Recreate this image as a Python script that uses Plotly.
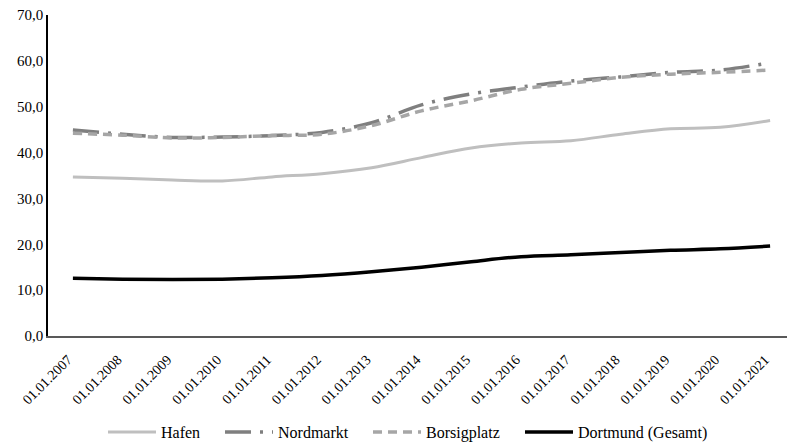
import plotly.graph_objects as go

dates = ["01.01.2007", "01.01.2008", "01.01.2009", "01.01.2010", "01.01.2011",
         "01.01.2012", "01.01.2013", "01.01.2014", "01.01.2015", "01.01.2016",
         "01.01.2017", "01.01.2018", "01.01.2019", "01.01.2020", "01.01.2021"]
hafen = [34.7, 34.4, 34.0, 33.8, 34.7, 35.4, 36.7, 38.9, 41.0, 42.1, 42.6, 44.0, 45.2, 45.5, 47.0]
nordmarkt = [44.9, 44.0, 43.3, 43.4, 43.7, 44.4, 46.5, 50.4, 52.8, 54.3, 55.6, 56.5, 57.5, 58.0, 59.6]
borsigplatz = [44.2, 43.8, 43.2, 43.3, 43.7, 44.0, 45.9, 49.1, 51.3, 53.8, 55.1, 56.4, 57.1, 57.5, 58.0]
dortmund = [12.6, 12.4, 12.3, 12.4, 12.7, 13.2, 14.0, 15.0, 16.2, 17.3, 17.7, 18.2, 18.7, 19.0, 19.6]
y_ticks = [0, 10, 20, 30, 40, 50, 60, 70]

FONT = "Times New Roman, Liberation Serif, Tinos, serif"

fig = go.Figure()
fig.add_trace(go.Scatter(x=dates, y=hafen, name="Hafen", mode="lines", legend="legend",
                         line=dict(color="#BFBFBF", width=3, shape="spline")))
fig.add_trace(go.Scatter(x=dates, y=nordmarkt, name="Nordmarkt", mode="lines", legend="legend2",
                         line=dict(color="#7F7F7F", width=3.5, shape="spline",
                                   dash="26px,9px,3px,9px")))
fig.add_trace(go.Scatter(x=dates, y=borsigplatz, name="Borsigplatz", mode="lines", legend="legend3",
                         line=dict(color="#A6A6A6", width=3.5, shape="spline",
                                   dash="9px,6px")))
fig.add_trace(go.Scatter(x=dates, y=dortmund, name="Dortmund (Gesamt)", mode="lines", legend="legend4",
                         line=dict(color="#000000", width=3.5, shape="spline")))

# page body adds an 8px offset; figure coords = window coords - 8
PL = 40
PW = 747
PT = 7
PH = 321
H = 455

def leg(xwin):
    return dict(orientation="h", x=(xwin - 8 - PL) / PW, xanchor="left", y=-0.299,
                yanchor="middle", font=dict(size=16, family=FONT), bgcolor="rgba(0,0,0,0)",
                itemwidth=48)

fig.update_layout(
    width=787, height=H,
    margin=dict(l=PL, r=0, t=PT, b=H - PT - PH),
    paper_bgcolor="white", plot_bgcolor="white",
    font=dict(family=FONT, size=15, color="#000000"),
    separators=",.",
    showlegend=True,
    legend=leg(103), legend2=leg(220), legend3=leg(368), legend4=leg(520),
    xaxis=dict(type="category", tickangle=-45, showgrid=False, showline=True,
               linecolor="#595959", linewidth=2, ticks="", range=[-0.5, 14.5],
               tickfont=dict(size=14, family=FONT), automargin=False,
               ticklabelstandoff=8, ticklabelshift=-5, ticklabeloverflow="allow"),
    yaxis=dict(range=[0, 70], tickvals=y_ticks, tickformat=".1f", showgrid=False,
               showline=True, linecolor="#000000", linewidth=1.5, ticks="",
               zeroline=False, tickfont=dict(size=15, family=FONT), automargin=False,
               ticklabeloverflow="allow"),
)

fig.write_html("out.html")
